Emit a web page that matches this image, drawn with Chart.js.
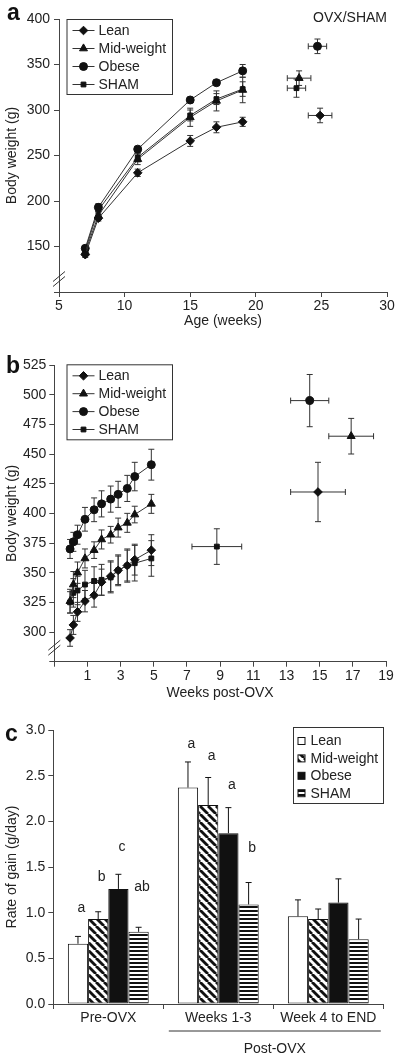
<!DOCTYPE html>
<html lang="en">
<head>
<meta charset="UTF-8" />
<script src="https://cdn.jsdelivr.net/npm/chart.js@4.4.0/dist/chart.umd.min.js"></script>
<title>Body weight and rate of gain</title>
<style>
  body { margin: 0; background: #fff; width: 400px; height: 1054px; position: relative; overflow: hidden; }
  canvas { position: absolute; left: 0; }
</style>
</head>
<body>
<canvas id="chartA" width="400" height="340" style="top:0"></canvas>
<canvas id="chartB" width="400" height="370" style="top:340px"></canvas>
<canvas id="chartC" width="400" height="344" style="top:710px"></canvas>

<script>
// groups (same order everywhere)
const groups = ['Lean', 'Mid-weight', 'Obese', 'SHAM'];

// panel a - body weight by age
const ageWeeks = [7, 8, 11, 15, 17, 19];
const leanAge = [141, 181, 231, 266, 281, 287];
const leanAgeErr = [3, 3, 4, 6, 6, 5];
const midAge = [144, 184, 246, 292, 310, 322];
const midAgeErr = [4, 4, 6, 10, 11, 14];
const obeseAge = [148, 193, 257, 311, 330, 343];
const obeseAgeErr = [3, 4, 3, 3, 3, 7];
const shamAge = [146, 190, 248, 294, 312, 323];
const shamAgeErr = [4, 4, 5, 6, 6, 8];
// end of study, panel a (Lean, Mid-weight, Obese, SHAM)
const endAge = [24.9, 23.3, 24.7, 23.1];
const endAgeErr = [0.9, 0.9, 0.7, 0.7];
const endWeightA = [294, 335, 370, 324];
const endWeightAErr = [8, 8, 8, 10];

// panel b - body weight post-OVX
const weeksPost = [-0.05, 0.15, 0.4, 0.85, 1.4, 1.85, 2.4, 2.85, 3.4, 3.85, 4.85];
const leanPost = [295, 306, 317, 326, 331, 342, 347, 352, 356, 361, 369];
const leanPostErr = [7, 8, 8, 9, 10, 11, 13, 12, 13, 13, 13];
const midPost = [326, 340, 350, 362, 369, 378, 382, 388, 392, 399, 408];
const midPostErr = [10, 11, 9, 8, 7, 8, 7, 8, 8, 7, 8];
const obesePost = [370, 376, 382, 395, 403, 408, 412, 416, 421, 431, 441];
const obesePostErr = [8, 8, 8, 10, 10, 11, 11, 11, 11, 12, 13];
const shamPost = [325, 333, 335, 340, 343, 344, 346, 352, 356, 358, 362];
const shamPostErr = [9, 12, 12, 12, 12, 13, 13, 13, 14, 15, 15];
// end of study, panel b
const endWeeks = [14.9, 16.9, 14.4, 8.8];
const endWeeksErr = [1.65, 1.35, 1.15, 1.5];
const endWeightB = [418, 465, 495, 372];
const endWeightBErr = [25, 15, 22, 15];

// panel c - rate of gain
const periods = ['Pre-OVX', 'Weeks 1-3', 'Week 4 to END'];
const leanGain = [0.66, 2.37, 0.96];
const leanGainErr = [0.08, 0.28, 0.18];
const midGain = [0.93, 2.18, 0.93];
const midGainErr = [0.08, 0.30, 0.11];
const obeseGain = [1.26, 1.87, 1.11];
const obeseGainErr = [0.16, 0.28, 0.26];
const shamGain = [0.79, 1.09, 0.71];
const shamGainErr = [0.05, 0.24, 0.22];
const leanSig = ['a', 'a', ''];
const midSig = ['b', 'a', ''];
const obeseSig = ['c', 'a', ''];
const shamSig = ['ab', 'b', ''];

const FONT = '"Liberation Sans", Arial, Helvetica, sans-serif';
const INK = '#222';
const AXIS = '#444';
Chart.defaults.font.family = FONT;
Chart.defaults.font.size = 14;
Chart.defaults.color = INK;

const markers = ['rectRot', 'triangle', 'circle', 'rect'];
const markerSize = [4.3, 4.6, 4, 3.4];

function seriesData(xs, ys) {
  return xs.map((x, i) => ({ x: x, y: ys[i] }));
}

function lineSet(i, xs, ys, errs) {
  return {
    label: groups[i], data: seriesData(xs, ys), yErr: errs,
    showLine: true, borderColor: '#333', borderWidth: 1,
    pointStyle: markers[i], pointRadius: markerSize[i],
    pointBackgroundColor: '#111', pointBorderColor: '#111', pointBorderWidth: 1
  };
}

function endSet(i, xs, xe, ys, ye) {
  return {
    label: groups[i] + ' end', data: [{ x: xs[i], y: ys[i] }],
    xErr: [xe[i]], yErr: [ye[i]], showLine: false,
    pointStyle: markers[i], pointRadius: markerSize[i],
    pointBackgroundColor: '#111', pointBorderColor: '#111', pointBorderWidth: 1
  };
}

// error bars for scatter panels, drawn under the markers
const errorBars = {
  id: 'errorBars',
  beforeDatasetsDraw(chart) {
    const ctx = chart.ctx, xs = chart.scales.x, ys = chart.scales.y;
    ctx.save();
    ctx.strokeStyle = '#333';
    ctx.lineWidth = 1;
    const seg = (x1, y1, x2, y2) => { ctx.beginPath(); ctx.moveTo(x1, y1); ctx.lineTo(x2, y2); ctx.stroke(); };
    chart.data.datasets.forEach(ds => {
      ds.data.forEach((p, i) => {
        const px = xs.getPixelForValue(p.x), py = ys.getPixelForValue(p.y);
        if (ds.yErr) {
          const t = ys.getPixelForValue(p.y + ds.yErr[i]), b = ys.getPixelForValue(p.y - ds.yErr[i]);
          seg(px, t, px, b); seg(px - 3, t, px + 3, t); seg(px - 3, b, px + 3, b);
        }
        if (ds.xErr) {
          const l = xs.getPixelForValue(p.x - ds.xErr[i]), r = xs.getPixelForValue(p.x + ds.xErr[i]);
          seg(l, py, r, py); seg(l, py - 3, l, py + 3); seg(r, py - 3, r, py + 3);
        }
      });
    });
    ctx.restore();
  }
};

// axis break marks
const axisBreak = {
  id: 'axisBreak',
  afterDraw(chart) {
    const ctx = chart.ctx, a = chart.chartArea;
    const cy = a.bottom - chart.options.plugins.axisBreak.lift;
    ctx.save();
    ctx.strokeStyle = '#333';
    ctx.lineWidth = 1;
    [-2.5, 2.5].forEach(o => {
      ctx.beginPath();
      ctx.moveTo(a.left - 6, cy + o + 5);
      ctx.lineTo(a.left + 6, cy + o - 5);
      ctx.stroke();
    });
    ctx.restore();
  }
};

// in-plot legend and panel letter
const lineLegend = {
  id: 'lineLegend',
  afterDraw(chart) {
    const o = chart.options.plugins.lineLegend;
    const ctx = chart.ctx;
    ctx.save();
    ctx.strokeStyle = '#333';
    ctx.lineWidth = 1;
    ctx.strokeRect(o.x + 0.5, o.y + 0.5, o.w, o.h);
    groups.forEach((g, i) => {
      const y = o.y + 11.5 + i * o.step;
      ctx.strokeStyle = '#333';
      ctx.beginPath(); ctx.moveTo(o.x + 6, y); ctx.lineTo(o.x + 28, y); ctx.stroke();
      ctx.fillStyle = '#111';
      ctx.strokeStyle = '#111';
      Chart.helpers.drawPoint(ctx, { pointStyle: markers[i], radius: markerSize[i], borderWidth: 1, rotation: 0 }, o.x + 17, y);
      ctx.fillStyle = INK;
      ctx.font = '14px ' + FONT;
      ctx.textBaseline = 'middle';
      ctx.textAlign = 'left';
      ctx.fillText(g, o.x + 32, y + 0.5);
    });
    ctx.font = 'bold 23px ' + FONT;
    ctx.fillStyle = '#111';
    ctx.textBaseline = 'alphabetic';
    ctx.fillText(o.tag, o.tagX, o.tagY);
    if (o.note) {
      ctx.font = '14px ' + FONT;
      ctx.fillStyle = INK;
      ctx.textAlign = 'right';
      ctx.textBaseline = 'middle';
      ctx.fillText(o.note, chart.chartArea.right, 18);
    }
    ctx.restore();
  }
};

function linAxis(min, max, step, title, size, hideFirst, titlePad, tickPad) {
  return {
    type: 'linear', min: min, max: max,
    border: { color: AXIS, width: 1 },
    grid: { drawOnChartArea: false, tickLength: 5, color: AXIS },
    ticks: {
      stepSize: step, autoSkip: false, maxRotation: 0, padding: tickPad,
      callback: v => (hideFirst && v === min) ? '' : v
    },
    title: { display: true, text: title, padding: titlePad },
    afterFit: s => { if (s.isHorizontal()) s.height = size; else s.width = size; }
  };
}

const common = { animation: false, responsive: false, events: [] };

new Chart(document.getElementById('chartA'), {
  type: 'scatter',
  data: {
    datasets: [
      lineSet(0, ageWeeks, leanAge, leanAgeErr),
      lineSet(1, ageWeeks, midAge, midAgeErr),
      lineSet(2, ageWeeks, obeseAge, obeseAgeErr),
      lineSet(3, ageWeeks, shamAge, shamAgeErr),
      endSet(0, endAge, endAgeErr, endWeightA, endWeightAErr),
      endSet(1, endAge, endAgeErr, endWeightA, endWeightAErr),
      endSet(2, endAge, endAgeErr, endWeightA, endWeightAErr),
      endSet(3, endAge, endAgeErr, endWeightA, endWeightAErr)
    ]
  },
  options: Object.assign({}, common, {
    layout: { padding: { top: 19, right: 13, bottom: 0, left: 0 } },
    plugins: {
      legend: { display: false }, tooltip: { enabled: false },
      axisBreak: { lift: 13 },
      lineLegend: { x: 66.5, y: 19, w: 105.5, h: 75, step: 18, tag: 'a', tagX: 7, tagY: 20, note: 'OVX/SHAM' }
    },
    scales: {
      x: linAxis(5, 30, 5, 'Age (weeks)', 48, false, { top: 0, bottom: 10 }, 1),
      y: linAxis(100, 400, 50, 'Body weight (g)', 59, true, { top: 4, bottom: 4 }, 4)
    }
  }),
  plugins: [errorBars, axisBreak, lineLegend]
});

new Chart(document.getElementById('chartB'), {
  type: 'scatter',
  data: {
    datasets: [
      lineSet(0, weeksPost, leanPost, leanPostErr),
      lineSet(1, weeksPost, midPost, midPostErr),
      lineSet(2, weeksPost, obesePost, obesePostErr),
      lineSet(3, weeksPost, shamPost, shamPostErr),
      endSet(0, endWeeks, endWeeksErr, endWeightB, endWeightBErr),
      endSet(1, endWeeks, endWeeksErr, endWeightB, endWeightBErr),
      endSet(2, endWeeks, endWeeksErr, endWeightB, endWeightBErr),
      endSet(3, endWeeks, endWeeksErr, endWeightB, endWeightBErr)
    ]
  },
  options: Object.assign({}, common, {
    layout: { padding: { top: 25, right: 14, bottom: 0, left: 0 } },
    plugins: {
      legend: { display: false }, tooltip: { enabled: false },
      axisBreak: { lift: 14 },
      lineLegend: { x: 66.5, y: 24.3, w: 105.5, h: 75, step: 17.9, tag: 'b', tagX: 6, tagY: 33 }
    },
    scales: {
      x: linAxis(-1, 19, 2, 'Weeks post-OVX', 48.3, true, { top: 0, bottom: 8 }, 1),
      y: linAxis(275, 525, 25, 'Body weight (g)', 54.3, true, { top: 4, bottom: 4 }, 3)
    }
  }),
  plugins: [errorBars, axisBreak, lineLegend]
});

// fill patterns for panel c
function diagPattern() {
  const c = document.createElement('canvas');
  c.width = 8; c.height = 8;
  const g = c.getContext('2d');
  g.fillStyle = '#fff'; g.fillRect(0, 0, 8, 8);
  g.strokeStyle = '#111'; g.lineWidth = 2.8;
  [-8, 0, 8].forEach(o => { g.beginPath(); g.moveTo(o, 0); g.lineTo(o + 8, 8); g.stroke(); });
  return g.createPattern(c, 'repeat');
}
function rowPattern() {
  const c = document.createElement('canvas');
  c.width = 4; c.height = 4;
  const g = c.getContext('2d');
  g.fillStyle = '#fff'; g.fillRect(0, 0, 4, 4);
  g.fillStyle = '#111'; g.fillRect(0, 0, 4, 2);
  return g.createPattern(c, 'repeat');
}
const fills = ['#fff', diagPattern(), '#111', rowPattern()];

// height of the significance letters, in rate units
const sigHeight = [[1.05, 2.85], [1.39, 2.71], [1.72, 2.40], [1.28, 1.71]];

const barExtras = {
  id: 'barExtras',
  afterDatasetsDraw(chart) {
    const ctx = chart.ctx, ys = chart.scales.y, a = chart.chartArea;
    ctx.save();
    ctx.strokeStyle = '#111';
    ctx.lineWidth = 1;
    chart.data.datasets.forEach((ds, di) => {
      const meta = chart.getDatasetMeta(di);
      meta.data.forEach((bar, i) => {
        const top = ys.getPixelForValue(ds.data[i] + ds.err[i]);
        ctx.beginPath();
        ctx.moveTo(bar.x, bar.y); ctx.lineTo(bar.x, top);
        ctx.moveTo(bar.x - 3, top); ctx.lineTo(bar.x + 3, top);
        ctx.stroke();
        if (ds.sig[i]) {
          ctx.fillStyle = INK;
          ctx.font = '14px ' + FONT;
          ctx.textAlign = 'center';
          ctx.textBaseline = 'middle';
          ctx.fillText(ds.sig[i], bar.x + 3.5, ys.getPixelForValue(sigHeight[di][i]));
        }
      });
    });
    // legend box
    const lx = 293.5, ly = 17.5;
    ctx.strokeStyle = '#333';
    ctx.strokeRect(lx, ly, 90, 76);
    chart.data.datasets.forEach((ds, di) => {
      const y = ly + 13.5 + di * 17.4;
      ctx.fillStyle = ds.backgroundColor;
      ctx.fillRect(lx + 4.5, y - 3.5, 7, 7);
      ctx.strokeStyle = '#111';
      ctx.strokeRect(lx + 4.5, y - 3.5, 7, 7);
      ctx.fillStyle = INK;
      ctx.font = '14px ' + FONT;
      ctx.textAlign = 'left';
      ctx.textBaseline = 'middle';
      ctx.fillText(ds.label, lx + 17, y + 0.5);
    });
    // post-OVX bracket
    const xs = chart.scales.x;
    const l = xs.getPixelForValue(1) - 49.5, r = xs.getPixelForValue(2) + 52.5;
    ctx.strokeStyle = '#333';
    ctx.beginPath(); ctx.moveTo(l, a.bottom + 27); ctx.lineTo(r, a.bottom + 27); ctx.stroke();
    ctx.fillStyle = INK;
    ctx.textAlign = 'center';
    ctx.textBaseline = 'alphabetic';
    ctx.fillText('Post-OVX', (l + r) / 2, 343);
    ctx.font = 'bold 23px ' + FONT;
    ctx.fillStyle = '#111';
    ctx.textAlign = 'left';
    ctx.fillText('c', 5, 31);
    ctx.restore();
  }
};

const gainSets = [
  [leanGain, leanGainErr, leanSig],
  [midGain, midGainErr, midSig],
  [obeseGain, obeseGainErr, obeseSig],
  [shamGain, shamGainErr, shamSig]
];

new Chart(document.getElementById('chartC'), {
  type: 'bar',
  data: {
    labels: periods,
    datasets: gainSets.map((s, i) => ({
      label: groups[i], data: s[0], err: s[1], sig: s[2],
      backgroundColor: fills[i], borderColor: '#111', borderWidth: 1, borderSkipped: false,
      categoryPercentage: 0.735, barPercentage: 1
    }))
  },
  options: Object.assign({}, common, {
    layout: { padding: { top: 20, right: 16.7, bottom: 0, left: 0 } },
    plugins: { legend: { display: false }, tooltip: { enabled: false } },
    scales: {
      x: {
        border: { color: AXIS, width: 1 },
        grid: { drawOnChartArea: false, tickLength: 5, color: AXIS, offset: true },
        ticks: { padding: 1, maxRotation: 0, autoSkip: false },
        afterFit: s => { s.height = 50; }
      },
      y: {
        min: 0, max: 3,
        border: { color: AXIS, width: 1 },
        grid: { drawOnChartArea: false, tickLength: 5, color: AXIS },
        ticks: { stepSize: 0.5, padding: 3, callback: v => v.toFixed(1) },
        title: { display: true, text: 'Rate of gain (g/day)', padding: { top: 4, bottom: 4 } },
        afterFit: s => { s.width = 53.3; }
      }
    }
  }),
  plugins: [barExtras]
});
</script>
</body>
</html>
